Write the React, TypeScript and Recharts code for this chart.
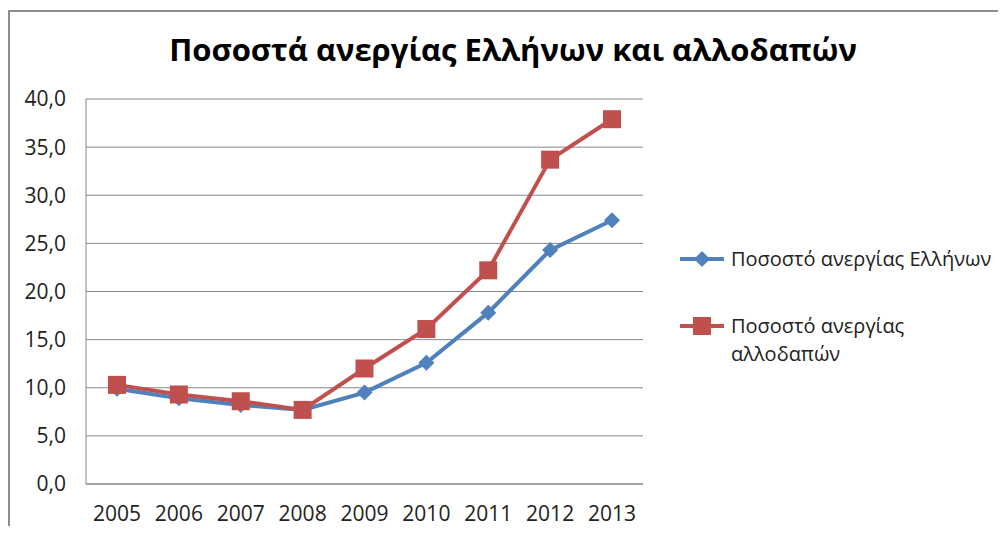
import { LineChart, Line, XAxis, YAxis, CartesianGrid } from 'recharts';

const years = ['2005', '2006', '2007', '2008', '2009', '2010', '2011', '2012', '2013'];
const greeks = [9.9, 8.9, 8.2, 7.7, 9.5, 12.6, 17.8, 24.3, 27.4];
const foreigners = [10.3, 9.3, 8.6, 7.7, 12.0, 16.1, 22.2, 33.7, 37.9];
const yTicks = [0, 5, 10, 15, 20, 25, 30, 35, 40];

const TITLE = 'Ποσοστά ανεργίας Ελλήνων και αλλοδαπών';
const NAME_GR = 'Ποσοστό ανεργίας Ελλήνων';
const NAME_FR = 'Ποσοστό ανεργίας αλλοδαπών';

const BLUE = '#4F81BD';
const RED = '#C0504D';
const GRID = '#878787';
const FONT = '"Open Sans", sans-serif';

const data = years.map((y, i) => ({ year: y, greeks: greeks[i], foreigners: foreigners[i] }));

const DiamondDot = (props: any) => {
    const { cx, cy, index } = props;
    if (cx == null || cy == null) return null;
    const r = 8;
    return (
        <polygon
            key={`d-${index}`}
            points={`${cx},${cy - r} ${cx + r},${cy} ${cx},${cy + r} ${cx - r},${cy}`}
            fill={BLUE}
        />
    );
};

const SquareDot = (props: any) => {
    const { cx, cy, index } = props;
    if (cx == null || cy == null) return null;
    const s = 9;
    return <rect key={`s-${index}`} x={cx - s} y={cy - s} width={s * 2} height={s * 2} fill={RED} />;
};

// legend drawn by hand (outside the chart) so the second label wraps like in Excel
const LegendIcon = ({ color, square }: { color: string; square?: boolean }) => (
    <svg width={48} height={20} style={{ flex: 'none', display: 'block' }}>
        <line x1={2} y1={10} x2={46} y2={10} stroke={color} strokeWidth={4} />
        {square
            ? <rect x={15} y={1} width={18} height={18} fill={color} />
            : <polygon points="24,2 32,10 24,18 16,10" fill={color} />}
    </svg>
);

const ChartLegend = () => (
    <div style={{ fontFamily: FONT, fontSize: 20, color: '#222', lineHeight: '28px' }}>
        <div style={{ display: 'flex', alignItems: 'flex-start' }}>
            <div style={{ marginTop: 4 }}><LegendIcon color={BLUE} /></div>
            <span style={{ marginLeft: 5, whiteSpace: 'nowrap' }}>{NAME_GR}</span>
        </div>
        <div style={{ display: 'flex', alignItems: 'flex-start', marginTop: 39 }}>
            <div style={{ marginTop: 4 }}><LegendIcon color={RED} square /></div>
            <span style={{ marginLeft: 5, width: 240 }}>{NAME_FR}</span>
        </div>
    </div>
);

export default function App() {
    return (
        <div style={{ position: 'relative', width: 990, height: 518 }}>
            <div
                style={{
                    position: 'absolute', left: 0, top: 2, width: 998, height: 516,
                    borderTop: '2px solid #8c8c8c', borderLeft: '2px solid #8c8c8c', boxSizing: 'border-box',
                }}
            />
            <div
                style={{
                    position: 'absolute', left: 0, top: 20, width: 1010, textAlign: 'center',
                    fontFamily: FONT, fontWeight: 700, fontSize: 31, color: '#000',
                }}
            >
                {TITLE}
            </div>
            <div style={{ position: 'absolute', left: 0, top: 0 }}>
                <LineChart width={990} height={518} data={data} margin={{ top: 91, right: 355, left: 8, bottom: 2 }}>
                    <CartesianGrid vertical={false} stroke={GRID} strokeWidth={1} />
                    <XAxis
                        dataKey="year"
                        height={40}
                        padding={{ left: 31, right: 31 }}
                        stroke={GRID}
                        tickLine={false}
                        tickSize={0}
                        tickMargin={22}
                        tick={{ fill: '#222', fontSize: 21, fontFamily: FONT }}
                    />
                    <YAxis
                        width={70}
                        domain={[0, 40]}
                        ticks={yTicks}
                        stroke={GRID}
                        tickLine={false}
                        tickSize={0}
                        tickMargin={20}
                        tick={{ fill: '#222', fontSize: 21, fontFamily: FONT }}
                        tickFormatter={(v: number) => v.toFixed(1).replace('.', ',')}
                    />
                    <Line
                        dataKey="greeks"
                        name={NAME_GR}
                        stroke={BLUE}
                        strokeWidth={4}
                        dot={<DiamondDot />}
                        activeDot={false}
                        isAnimationActive={false}
                    />
                    <Line
                        dataKey="foreigners"
                        name={NAME_FR}
                        stroke={RED}
                        strokeWidth={4}
                        dot={<SquareDot />}
                        activeDot={false}
                        isAnimationActive={false}
                    />
                </LineChart>
            </div>
            <div style={{ position: 'absolute', left: 670, top: 237, width: 320 }}>
                <ChartLegend />
            </div>
        </div>
    );
}
